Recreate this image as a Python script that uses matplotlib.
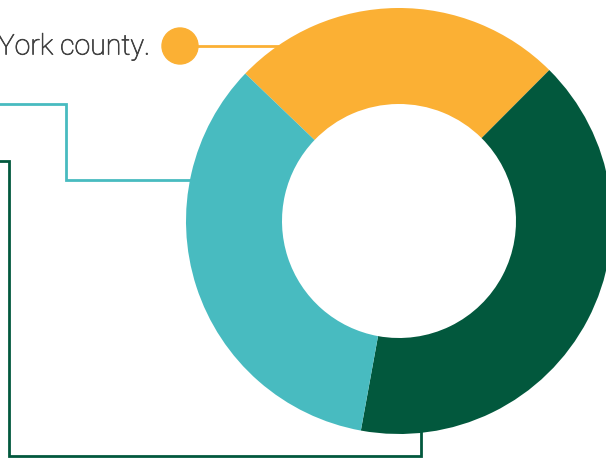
import matplotlib
matplotlib.use("Agg")
import matplotlib.pyplot as plt
import matplotlib.patheffects as pe
from matplotlib.patches import Circle

# Data
categories = ["Orange group", "Green group", "Teal group"]
values = [25.3, 40.4, 34.3]
colors = ["#FBB034", "#02583D", "#48BBC0"]
label_text = "York county."

W, H = 606, 459
fig = plt.figure(figsize=(W / 100, H / 100), dpi=100)
ax = fig.add_axes([0, 0, 1, 1])

def Y(py):
    return H - py

cx, cy, R, r = 399, 221, 213, 117

ax.pie(values, colors=colors, startangle=136.2, counterclock=False,
       center=(cx, Y(cy)), radius=R,
       wedgeprops=dict(width=R - r, linewidth=0), frame=True)
ax.set_xlim(0, W)
ax.set_ylim(0, H)
ax.axis("off")

# leader lines (drawn under the donut)
ax.plot([180, 300], [Y(46), Y(46)], color=colors[0], lw=2, zorder=0,
        solid_capstyle="butt")
ax.add_patch(Circle((180, Y(46)), 18, color=colors[0], zorder=3))
ax.plot([-5, 66, 66, 230], [Y(104), Y(104), Y(179.5), Y(179.5)],
        color=colors[2], lw=2, zorder=0, solid_joinstyle="miter")
ax.plot([-5, 9, 9, 421, 421], [Y(161), Y(161), Y(456), Y(456), Y(400)],
        color=colors[1], lw=2, zorder=0, solid_joinstyle="miter")

ax.text(150, Y(54.5), label_text, ha="right", va="baseline", fontsize=20.5,
        family="Roboto", fontweight="light", color="#404040",
        path_effects=[pe.withStroke(linewidth=0.5, foreground="#404040")])

fig.savefig("out.png", dpi=100)
